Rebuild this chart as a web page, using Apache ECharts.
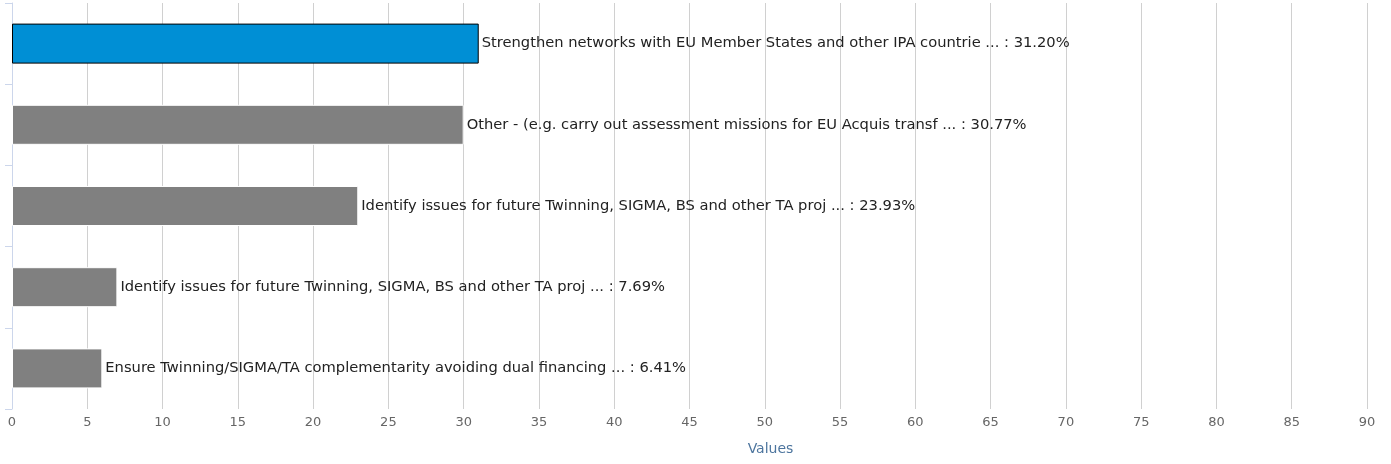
<!DOCTYPE html>
<html><head><meta charset="utf-8">
<script src="https://cdn.jsdelivr.net/npm/echarts@6/dist/echarts.min.js"></script>
<style>html,body{margin:0;padding:0;background:#fff}#c{width:1391px;height:464px}</style>
</head><body><div id="c"></div>
<script>
const categories = [
  "Strengthen networks with EU Member States and other IPA countrie ...",
  "Other - (e.g. carry out assessment missions for EU Acquis transf ...",
  "Identify issues for future Twinning, SIGMA, BS and other TA proj ...",
  "Identify issues for future Twinning, SIGMA, BS and other TA proj ...",
  "Ensure Twinning/SIGMA/TA complementarity avoiding dual financing ..."
];
const values = [31, 30, 23, 7, 6];
const percents = ["31.20%", "30.77%", "23.93%", "7.69%", "6.41%"];
const xTicks = { min: 0, max: 90, interval: 5 };
const axisTitle = "Values";

const chart = echarts.init(document.getElementById('c'), null, {renderer: 'canvas'});
const font = 'DejaVu Sans';
chart.setOption({
  animation: false,
  grid: { left: 12, right: 24, top: 3, bottom: 55, containLabel: false },
  xAxis: {
    type: 'value', min: xTicks.min, max: xTicks.max, interval: xTicks.interval,
    name: axisTitle, nameLocation: 'middle', nameGap: 33,
    nameTextStyle: { color: '#4d759e', fontSize: 14, fontFamily: font, padding: [0, 0, 0, 162] },
    axisLine: { show: false }, axisTick: { show: false },
    axisLabel: { color: '#666', fontSize: 13, fontFamily: font, margin: 7 },
    splitLine: { show: true, lineStyle: { color: '#d0d0d0', width: 1 } }
  },
  yAxis: {
    type: 'category', data: categories, inverse: true,
    axisLine: { show: true, lineStyle: { color: '#ccd6eb', width: 1 } },
    axisTick: { show: true, length: 7, lineStyle: { color: '#ccd6eb' } },
    axisLabel: { show: false }, splitLine: { show: false }
  },
  series: [{
    type: 'bar', barWidth: 40,
    data: values.map((v, i) => ({
      value: v,
      itemStyle: i === 0
        ? { color: '#008fd5', borderColor: '#000', borderWidth: 1 }
        : { color: '#808080', borderColor: '#fff', borderWidth: 1 }
    })),
    label: {
      show: true, position: 'right', distance: 3,
      color: '#222', fontSize: 14.7, fontFamily: font,
      formatter: p => categories[p.dataIndex] + ' : ' + percents[p.dataIndex]
    }
  }]
});
</script></body></html>
